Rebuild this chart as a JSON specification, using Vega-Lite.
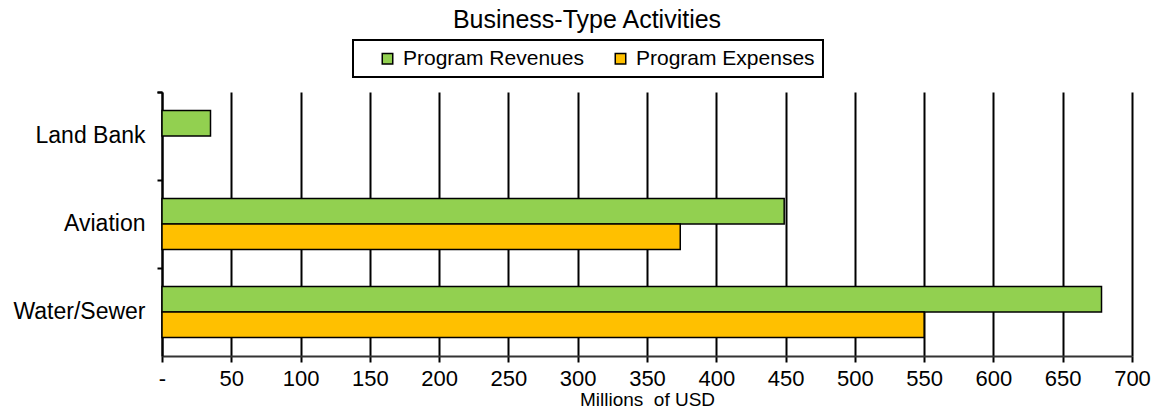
{
  "$schema": "https://vega.github.io/schema/vega-lite/v6.json",
  "autosize": {"type": "none"},
  "padding": {"left": 162, "top": 92, "right": 21, "bottom": 56},
  "width": 970,
  "height": 264,
  "background": "white",
  "title": {
    "text": "Business-Type Activities",
    "font": "Liberation Sans",
    "fontSize": 25,
    "fontWeight": "normal",
    "color": "black",
    "anchor": "middle",
    "dx": -60,
    "offset": 6
  },
  "data": {
    "values": [
      {"category": "Land Bank", "series": "Program Revenues", "value": 35},
      {"category": "Aviation", "series": "Program Revenues", "value": 449},
      {"category": "Aviation", "series": "Program Expenses", "value": 374},
      {"category": "Water/Sewer", "series": "Program Revenues", "value": 678},
      {"category": "Water/Sewer", "series": "Program Expenses", "value": 550}
    ]
  },
  "mark": {"type": "bar", "stroke": "black", "strokeWidth": 1.5},
  "encoding": {
    "y": {
      "field": "category",
      "type": "nominal",
      "sort": ["Land Bank", "Aviation", "Water/Sewer"],
      "scale": {"paddingInner": 0, "paddingOuter": 0},
      "axis": {
        "title": null,
        "bandPosition": 0,
        "tickExtra": true,
        "domainColor": "black",
        "domainWidth": 2,
        "tickColor": "black",
        "tickWidth": 2,
        "tickSize": 5,
        "labelFont": "Liberation Sans",
        "labelFontSize": 23,
        "labelColor": "black",
        "labelPadding": 12,
        "labelLimit": 300
      }
    },
    "yOffset": {
      "field": "series",
      "type": "nominal",
      "sort": ["Program Revenues", "Program Expenses"],
      "scale": {"paddingInner": 0, "paddingOuter": 0.725}
    },
    "x": {
      "field": "value",
      "type": "quantitative",
      "scale": {"domain": [0, 700], "nice": false},
      "axis": {
        "title": "Millions\u00a0 of USD",
        "titleFont": "Liberation Sans",
        "titleFontSize": 19,
        "titleFontWeight": "normal",
        "titleColor": "black",
        "titlePadding": 1,
        "values": [0, 50, 100, 150, 200, 250, 300, 350, 400, 450, 500, 550, 600, 650, 700],
        "labelExpr": "datum.value == 0 ? '-' : datum.label",
        "labelFlush": false,
        "labelOverlap": false,
        "labelFont": "Liberation Sans",
        "labelFontSize": 22,
        "labelColor": "black",
        "labelPadding": 6,
        "grid": true,
        "gridColor": "black",
        "gridWidth": 2,
        "gridOpacity": 1,
        "domainColor": "#333333",
        "domainWidth": 2,
        "tickColor": "black",
        "tickWidth": 2,
        "tickSize": 6
      }
    },
    "color": {
      "field": "series",
      "type": "nominal",
      "scale": {"domain": ["Program Revenues", "Program Expenses"], "range": ["#92D050", "#FFC000"]},
      "legend": {
        "title": null,
        "orient": "none",
        "legendX": 191,
        "legendY": -52,
        "direction": "horizontal",
        "strokeColor": "black",
        "padding": 8,
        "symbolType": "square",
        "symbolSize": 110,
        "symbolOffset": 16,
        "symbolStrokeColor": "black",
        "symbolStrokeWidth": 1.5,
        "symbolOpacity": 1,
        "labelFont": "Liberation Sans",
        "labelFontSize": 21,
        "labelColor": "black",
        "labelOffset": 5,
        "labelLimit": 400,
        "columnPadding": 10,
        "offset": 0
      }
    }
  },
  "config": {"view": {"stroke": null}, "legend": {"strokeWidth": 2}}
}
